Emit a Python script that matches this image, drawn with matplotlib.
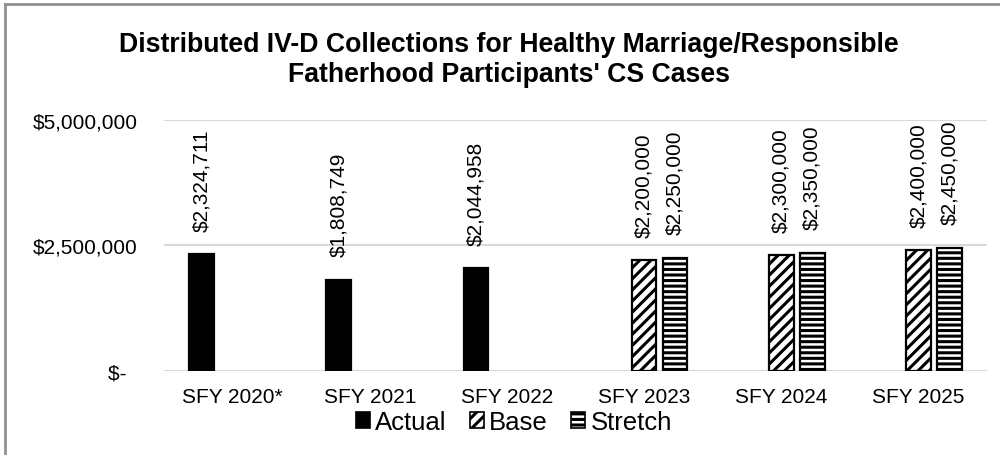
import numpy as np
import matplotlib
matplotlib.use('Agg')
import matplotlib.pyplot as plt
from matplotlib.lines import Line2D

plt.rcParams['font.family'] = ['Liberation Sans', 'DejaVu Sans']
plt.rcParams['hatch.linewidth'] = 2.2

years = ['SFY 2020*', 'SFY 2021', 'SFY 2022', 'SFY 2023', 'SFY 2024', 'SFY 2025']
actual = [2324711, 1808749, 2044958, None, None, None]
base = [None, None, None, 2200000, 2300000, 2400000]
stretch = [None, None, None, 2250000, 2350000, 2450000]

series = [('Actual', actual, 'black', ''),
          ('Base', base, 'white', '///'),
          ('Stretch', stretch, 'white', '---')]

fig = plt.figure(figsize=(10, 4.56), dpi=100)
ax = fig.add_axes([0.164, 0.1853, 0.823, 0.5483])

x = np.arange(len(years))
step = 0.226
width = 0.18

for i, (name, vals, fc, hatch) in enumerate(series):
    off = (i - 1) * step
    for xi, v in zip(x, vals):
        if v is None:
            continue
        ax.bar(xi + off, v, width=width, color=fc, edgecolor='black',
               hatch=hatch, linewidth=1.6, zorder=3)
        ax.annotate('${:,}'.format(v), (xi + off, v), xytext=(0, 17),
                    textcoords='offset points', rotation=90,
                    ha='center', va='bottom', fontsize=15)

ax.set_xlim(-0.5, len(years) - 0.5)
ax.set_ylim(0, 5000000)
ax.set_yticks([0, 2500000, 5000000])
ax.set_yticklabels(['$-  ', '$2,500,000', '$5,000,000'])
ax.set_xticks(x)
ax.set_xticklabels(years)
ax.tick_params(axis='both', length=0, labelsize=15)
ax.tick_params(axis='y', pad=19)
ax.tick_params(axis='x', pad=12)
ax.grid(axis='y', color='#d9d9d9', linewidth=1.5, zorder=0)
for s in ax.spines.values():
    s.set_visible(False)

fig.text(0.509, 0.868,
         "Distributed IV-D Collections for Healthy Marriage/Responsible\n"
         "Fatherhood Participants' CS Cases",
         ha='center', va='center', fontsize=19.2, fontweight='bold',
         linespacing=1.2)

handles = [plt.Rectangle((0, 0), 1, 1, facecolor=fc, edgecolor='black',
                         hatch=h, linewidth=1.2)
           for _, _, fc, h in series]
fig.legend(handles, [s[0] for s in series], loc='center',
           bbox_to_anchor=(0.514, 0.072), ncol=3, frameon=False,
           fontsize=18.5, handlelength=0.55, handleheight=0.55,
           handletextpad=0.2, columnspacing=0.9)

# outer border (top and left visible)
fig.add_artist(Line2D([0.005, 0.005], [0, 0.989], color='#909090', linewidth=2))
fig.add_artist(Line2D([0.005, 1], [0.989, 0.989], color='#909090', linewidth=2))

fig.savefig('out.png', dpi=100)
